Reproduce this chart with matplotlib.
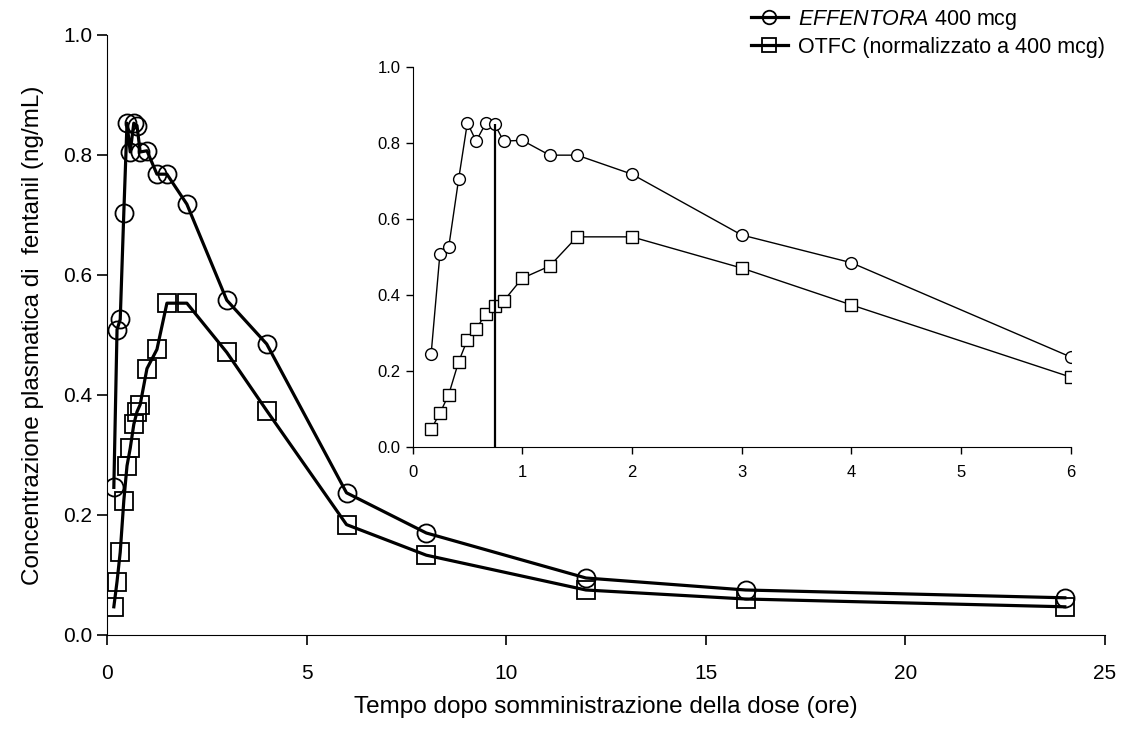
import matplotlib
matplotlib.use("Agg")
import matplotlib.pyplot as plt
from matplotlib import font_manager

# data (hours, ng/mL)
tempo = [0.17, 0.25, 0.33, 0.42, 0.5, 0.58, 0.67, 0.75, 0.83, 1.0, 1.25, 1.5,
         2, 3, 4, 6, 8, 12, 16, 24]
effentora = [0.246, 0.509, 0.526, 0.704, 0.853, 0.805, 0.853, 0.849, 0.805,
             0.807, 0.768, 0.768, 0.718, 0.558, 0.485, 0.237, 0.170, 0.095,
             0.075, 0.062]
otfc = [0.047, 0.089, 0.138, 0.224, 0.282, 0.311, 0.351, 0.372, 0.384, 0.444,
        0.476, 0.553, 0.553, 0.471, 0.374, 0.184, 0.133, 0.075, 0.060, 0.047]
tmax = 0.75
cmax = 0.849

label_eff = r"$\it{EFFENTORA}$ 400 mcg"
label_otfc = "OTFC (normalizzato a 400 mcg)"

names = {f.name for f in font_manager.fontManager.ttflist}
fam = "Liberation Sans Narrow" if "Liberation Sans Narrow" in names else "Liberation Sans"
plt.rcParams["font.family"] = [fam, "DejaVu Sans"]
plt.rcParams["mathtext.fontset"] = "custom"
plt.rcParams["mathtext.it"] = fam + ":italic"
plt.rcParams["mathtext.rm"] = fam

fig = plt.figure(figsize=(11.21, 7.33), dpi=100)

# main plot
ax = fig.add_axes([0.0955, 0.1337, 0.890, 0.8186])
ax.plot(tempo, effentora, color="black", lw=2.3, marker="o", ms=13,
        mfc="none", mec="black", mew=1.3, label=label_eff)
ax.plot(tempo, otfc, color="black", lw=2.3, marker="s", ms=13,
        mfc="none", mec="black", mew=1.3, label=label_otfc)
ax.set_xlim(0, 25)
ax.set_ylim(0, 1.0)
ax.set_xticks([0, 5, 10, 15, 20, 25])
ax.set_yticks([0.0, 0.2, 0.4, 0.6, 0.8, 1.0])
ax.set_yticklabels(["0.0", "0.2", "0.4", "0.6", "0.8", "1.0"])
for s in ["top", "right"]:
    ax.spines[s].set_visible(False)
ax.tick_params(labelsize=15, length=7, width=1.2, direction="out")
ax.tick_params(axis="x", pad=14)
ax.set_xlabel("Tempo dopo somministrazione della dose (ore)", fontsize=17.5,
              labelpad=9)
ax.set_ylabel("Concentrazione plasmatica di  fentanil (ng/mL)", fontsize=17.5,
              labelpad=14)

ax.legend(loc="upper right", bbox_to_anchor=(1.02, 1.078), frameon=False,
          fontsize=15.5, handlelength=1.7, handletextpad=0.5, labelspacing=0.25,
          markerscale=0.75)

# inset
ins = fig.add_axes([0.368, 0.3902, 0.587, 0.5184])
ins.plot(tempo, effentora, color="black", lw=1, marker="o", ms=8.5,
         mfc="white", mec="black", mew=1)
ins.plot(tempo, otfc, color="black", lw=1, marker="s", ms=8.5,
         mfc="white", mec="black", mew=1)
ins.vlines(tmax, 0, cmax, color="black", lw=1.6)
ins.set_xlim(0, 6)
ins.set_ylim(0, 1.0)
ins.set_xticks(range(7))
ins.set_yticks([0.0, 0.2, 0.4, 0.6, 0.8, 1.0])
ins.set_yticklabels(["0.0", "0.2", "0.4", "0.6", "0.8", "1.0"])
for s in ["top", "right"]:
    ins.spines[s].set_visible(False)
ins.patch.set_alpha(0)
ins.tick_params(labelsize=12, length=5, width=1, direction="out")
ins.tick_params(axis="x", pad=8)

fig.savefig("out.png", dpi=100)
